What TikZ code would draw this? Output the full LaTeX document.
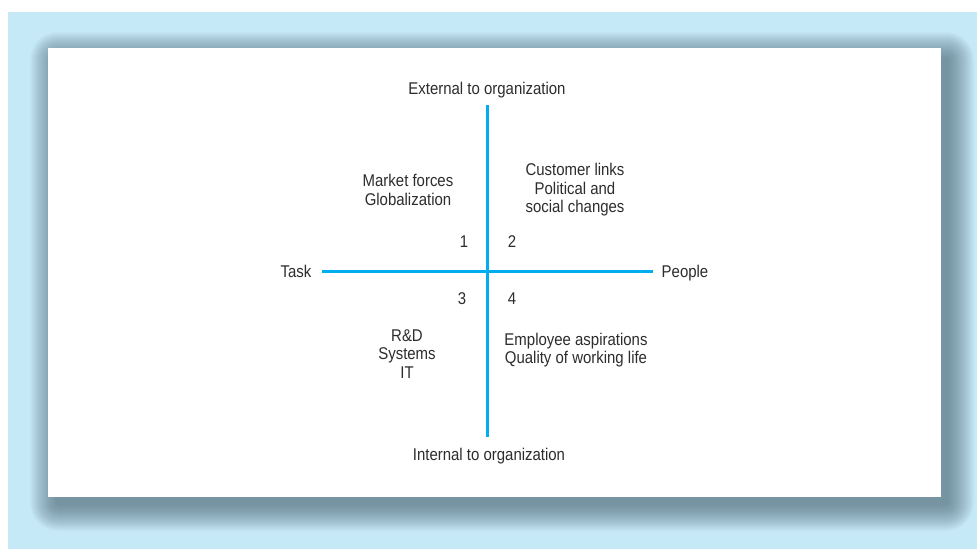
\documentclass[tikz,border=0pt]{standalone}
\usepackage{fontspec}
\setmainfont[FakeStretch=0.88]{Liberation Sans}
\definecolor{bgblue}{RGB}{198,233,248}
\definecolor{shadowc}{RGB}{75,100,115}
\definecolor{axisblue}{RGB}{0,174,239}
\definecolor{txt}{RGB}{45,45,45}
\begin{document}
\begin{tikzpicture}[x=1pt,y=-1pt,
  lbl/.style={inner sep=0pt,text=txt,font=\fontsize{17}{18.5}\selectfont,align=center},
  axis/.style={draw=axisblue,line width=3pt}]
\useasboundingbox (0,0) rectangle (977,549);
\fill[bgblue] (8,12) rectangle (977,549);
% shadow
\foreach \i in {26,25,...,0}{
  \fill[shadowc,opacity=0.032,rounded corners={\i pt+2pt}] (56-\i,58-\i) rectangle (948+\i,505+\i);
}
\fill[white] (48,48) rectangle (941,497);
% axes endpoints
\coordinate (top) at (487,105);
\coordinate (bot) at (487,437);
\coordinate (left) at (322,271);
\coordinate (right) at (653,271);
\draw[axis] (top) -- (bot);
\draw[axis] (left) -- (right);
% labels
\node[lbl] (ext) at (487,90) {External to organization};
\node[lbl] (int) at (489,456) {Internal to organization};
\node[lbl] (task) at (296,271) {Task};
\node[lbl] (people) at (685,273) {People};
\node[lbl] (q1) at (408,190) {Market forces\\Globalization};
\node[lbl] (q2) at (575,190) {Customer links\\Political and\\social changes};
\node[lbl] (n1) at (464,242) {1};
\node[lbl] (n2) at (512,242) {2};
\node[lbl] (n3) at (462,299) {3};
\node[lbl] (n4) at (512,299) {4};
\node[lbl] (q3) at (407,354) {R\&D\\Systems\\IT};
\node[lbl] (q4) at (576,350) {Employee aspirations\\Quality of working life};
\end{tikzpicture}
\end{document}
